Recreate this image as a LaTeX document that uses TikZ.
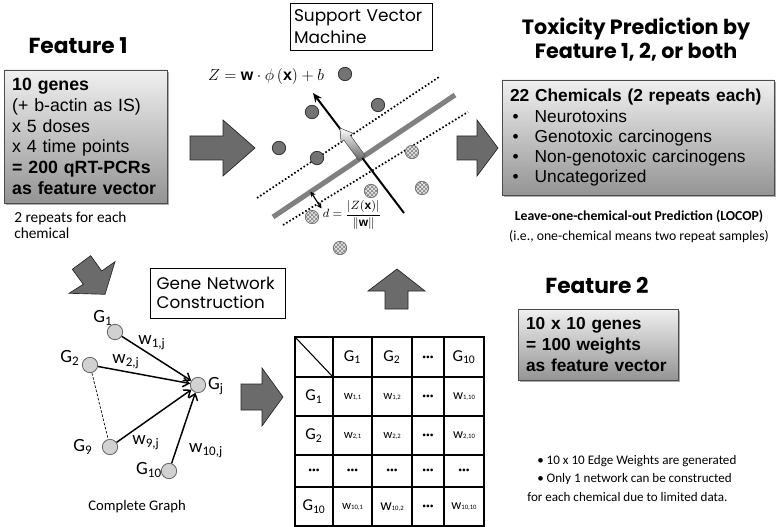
\documentclass[tikz,border=0pt]{standalone}
\usepackage{fontspec}
\setmainfont{Liberation Sans}
\newfontfamily\comic{Poppins}
\newfontfamily\calib{Carlito}
\usetikzlibrary{patterns,shadows,arrows.meta}
\tikzset{
 blockarrow/.style={fill=black!58, draw=black!85, line width=0.5pt, line join=miter},
 featbox/.style={draw=black!70, line width=0.6pt, top color=black!6, bottom color=black!42,
   drop shadow={shadow xshift=1.5pt, shadow yshift=-1.5pt, fill=black!55, opacity=0.6},
   inner xsep=6pt, inner ysep=0pt, align=left},
 plainbox/.style={draw=black, line width=0.7pt, fill=white, align=left, inner xsep=3pt, inner ysep=0pt},
 titletext/.style={font=\comic\bfseries\fontsize{16.3}{18}\selectfont, align=center},
 gnode/.style={circle, draw=black!60, fill=black!18, minimum size=11.5pt, inner sep=0pt, line width=0.6pt},
 dotc/.style={circle, draw=black!80, fill=black!55, minimum size=10pt, inner sep=0pt, line width=0.6pt},
 hatchc/.style={circle, draw=black!55, fill=black!10, minimum size=10pt, inner sep=0pt, line width=0.6pt,
   postaction={pattern=crosshatch, pattern color=black!50}},
 wedge/.style={line width=1.1pt, -{Straight Barb[length=4.5pt,width=7pt]}},
 glabel/.style={font=\calib\fontsize{14}{16}\selectfont, inner sep=0pt},
 hdr/.style={font=\calib\fontsize{12.5}{14}\selectfont, inner sep=0pt},
 cellw/.style={font=\calib\fontsize{9.5}{11}\selectfont, inner sep=0pt},
 dots3/.style={font=\bfseries\fontsize{7}{8}\selectfont, inner sep=0pt},
 caltext/.style={font=\calib\fontsize{11}{12.5}\selectfont, inner sep=0pt},
}
\newcommand{\tdots}{\textbullet\kern0.3pt\textbullet\kern0.3pt\textbullet}
\begin{document}
\begin{tikzpicture}[x=0.75pt,y=-0.75pt]
\useasboundingbox (0,0) rectangle (777,527);

% ---------------- titles ----------------
\node[titletext] (t1) at (78,46) {Feature 1};
\node[titletext, font=\comic\bfseries\fontsize{15.5}{18}\selectfont] (t3) at (636,40) {Toxicity Prediction by\\Feature 1, 2, or both};
\node[titletext] (t2) at (597,285) {Feature 2};

% ---------------- feature 1 box ----------------
\node[featbox, minimum width=122.25pt, minimum height=99.75pt, text width=110pt,
  font=\fontsize{13.3}{15.5}\selectfont] (f1box) at (85.5,136.5)
 {\textbf{10 genes}\\(+ b-actin as IS)\\x 5 doses\\x 4 time points\\\textbf{= 200 qRT-PCRs}\\\textbf{as feature vector}};
\node[caltext, anchor=west, align=left, font=\calib\fontsize{11.5}{12}\selectfont] (rep) at (14,225) {2 repeats for each\\chemical};

% ---------------- toxicity box ----------------
\node[featbox, minimum width=202.5pt, minimum height=86.25pt, text width=192pt,
  font=\fontsize{13}{15}\selectfont] (tbox) at (638,137.5)
 {\textbf{22 Chemicals (2 repeats each)}\\[1.2pt]
  \makebox[18.5pt][l]{\hspace{2pt}\textbullet}Neurotoxins\\
  \makebox[18.5pt][l]{\hspace{2pt}\textbullet}Genotoxic carcinogens\\
  \makebox[18.5pt][l]{\hspace{2pt}\textbullet}Non-genotoxic carcinogens\\
  \makebox[18.5pt][l]{\hspace{2pt}\textbullet}Uncategorized};
\node[caltext, align=center, font=\calib\fontsize{10.3}{15}\selectfont] (locop) at (639,227)
 {\textbf{Leave-one-chemical-out Prediction (LOCOP)}\\(i.e., one-chemical means two repeat samples)};

% ---------------- feature 2 box ----------------
\node[featbox, minimum width=118.5pt, minimum height=53.25pt, text width=108pt,
  font=\bfseries\fontsize{13}{15.8}\selectfont] (f2box) at (598,344.5)
 {10 x 10 genes\\= 100 weights\\as feature vector};

% ---------------- plain boxes ----------------
\node[plainbox, font=\comic\fontsize{12.7}{16.5}\selectfont, minimum width=106.5pt, minimum height=35.25pt, text width=100.5pt] (svmbox) at (361,26.5)
 {\mbox{Support Vector}\\Machine};
\node[plainbox, inner xsep=5pt, font=\comic\fontsize{12.6}{14.5}\selectfont, minimum width=101.25pt, minimum height=37.5pt, text width=91.25pt] (gncbox) at (217.5,293)
 {\mbox{Gene Network}\\\mbox{Construction}};

% ---------------- block arrows ----------------
\draw[blockarrow] (190,136) -- (223,136) -- (223,120) -- (255,148) -- (223,176) -- (223,160) -- (190,160) -- cycle;
\draw[blockarrow] (457,136) -- (477,136) -- (477,120) -- (498,148) -- (477,176) -- (477,160) -- (457,160) -- cycle;
\draw[blockarrow] (90.7,255.7) -- (101.7,271) -- (115,261.7) -- (105,294.3) -- (69,293.3) -- (83.3,284.3) -- (72.3,269.3) -- cycle;
\draw[blockarrow] (241,384) -- (262,384) -- (262,368) -- (283,397) -- (262,426) -- (262,410) -- (241,410) -- cycle;
\draw[blockarrow] (385,309) -- (385,291) -- (368,291) -- (397,269) -- (425,291) -- (408,291) -- (408,309) -- cycle;

% ---------------- SVM plot ----------------
\node[inner sep=0pt, font=\fontsize{12}{14}\selectfont] (zeq) at (266,77) {$Z=\mathbf{w}\cdot\phi\left(\mathbf{x}\right)+b$};
\coordinate (hpA) at (273,217); \coordinate (hpB) at (455,95);
\coordinate (mgA) at (257,198); \coordinate (mgB) at (439,77);
\coordinate (mlA) at (283,225); \coordinate (mlB) at (468,112);
\draw[black!50, line width=3.8pt] (hpA) -- (hpB);
\draw[line width=1.3pt, dash pattern=on 1.2pt off 1.6pt] (mgA) -- (mgB);
\draw[line width=1.3pt, dash pattern=on 1.2pt off 1.6pt] (mlA) -- (mlB);
\coordinate (nA) at (404,213); \coordinate (nB) at (313,93);
\draw[line width=1.5pt, -{Stealth[length=7pt,width=6pt]}] (nA) -- (nB);
\shade[top color=white, bottom color=black!60, draw=black!70, line width=0.4pt]
 (358.8,160.4) -- (343.9,140.1) -- (341.0,142.1) -- (340,128) -- (353.1,133.3) -- (350.3,135.3) -- (365.2,155.6) -- cycle;
\foreach \n/\p in {d1/{(345,74)}, d2/{(312,112)}, d3/{(378,105)}, d4/{(279,148)}, d5/{(317,158)}}
  \node[dotc] (\n) at \p {};
\foreach \n/\p in {h1/{(412,152)}, h2/{(422,188)}, h3/{(371,191)}, h4/{(312,217)}, h5/{(340,248)}}
  \node[hatchc] (\n) at \p {};
\coordinate (dA) at (310.5,191.5); \coordinate (dB) at (321.5,208.5);
\draw[line width=0.9pt, {Stealth[length=4pt,width=4pt]}-{Stealth[length=4pt,width=4pt]}] (dA) -- (dB);
\node[inner sep=0pt, font=\fontsize{9}{10}\selectfont] (deq) at (352,215) {$d=\displaystyle\frac{\left|Z(\mathbf{x})\right|}{\left\|\mathbf{w}\right\|}$};

% ---------------- graph ----------------
\node[gnode] (g1) at (115,332) {};
\node[gnode] (g2) at (90,365) {};
\node[gnode] (gj) at (198,385) {};
\node[gnode] (g9) at (110,447) {};
\node[gnode] (g10) at (169,471) {};
\node[glabel] (lg1) at (103,318) {G\textsubscript{1}};
\node[glabel] (lg2) at (70,358) {G\textsubscript{2}};
\node[glabel] (lgj) at (216,386) {G\textsubscript{j}};
\node[glabel] (lg9) at (83,447) {G\textsubscript{9}};
\node[glabel] (lg10) at (149,470) {G\textsubscript{10}};
\draw[wedge] (g1) -- (gj);
\draw[wedge] (g2) -- (gj);
\draw[wedge] (g9) -- (gj);
\draw[wedge] (g10) -- (gj);
\draw[line width=0.5pt, dash pattern=on 2pt off 1.2pt] (g2) -- (g9);
\node[glabel] (w1) at (152,343) {w\textsubscript{1,j}};
\node[glabel] (w2) at (126,362) {w\textsubscript{2,j}};
\node[glabel] (w9) at (146,443) {w\textsubscript{9,j}};
\node[glabel] (w10) at (206,451) {w\textsubscript{10,j}};
\node[caltext] (cg) at (137,507) {Complete Graph};

% ---------------- matrix ----------------
\draw[line width=0.8pt] (295,337) rectangle (484,526);
\foreach \xx in {333,372,412,444} \draw[line width=0.8pt] (\xx,337) -- (\xx,526);
\foreach \yy in {377,416,455,487} \draw[line width=0.8pt] (295,\yy) -- (484,\yy);
\draw[line width=0.8pt] (295,337) -- (333,377);
\node[hdr] (h11) at (352.5,357) {G\textsubscript{1}};
\node[hdr] (h12) at (392,357) {G\textsubscript{2}};
\node[dots3] (h13) at (428,358) {\tdots};
\node[hdr] (h14) at (464,357) {G\textsubscript{10}};
\node[hdr] (r1) at (314,396.5) {G\textsubscript{1}};
\node[hdr] (r2) at (314,435.5) {G\textsubscript{2}};
\node[dots3] (r3) at (314,471.5) {\tdots};
\node[hdr] (r4) at (314,506.5) {G\textsubscript{10}};
\node[cellw] (c11) at (352.5,397) {w{\fontsize{5}{6}\selectfont 1,1}};
\node[cellw] (c12) at (392,397) {w{\fontsize{5}{6}\selectfont 1,2}};
\node[dots3] (c13) at (428,397.5) {\tdots};
\node[cellw, font=\calib\fontsize{10.5}{12}\selectfont] (c14) at (464,397) {w{\fontsize{5}{6}\selectfont 1,10}};
\node[cellw] (c21) at (352.5,436) {w{\fontsize{5}{6}\selectfont 2,1}};
\node[cellw] (c22) at (392,436) {w{\fontsize{5}{6}\selectfont 2,2}};
\node[dots3] (c23) at (428,436.5) {\tdots};
\node[cellw, font=\calib\fontsize{10.5}{12}\selectfont] (c24) at (464,436) {w{\fontsize{5}{6}\selectfont 2,10}};
\node[dots3] (c31) at (352.5,471.5) {\tdots};
\node[dots3] (c32) at (392,471.5) {\tdots};
\node[dots3] (c33) at (428,471.5) {\tdots};
\node[dots3] (c34) at (464,471.5) {\tdots};
\node[cellw] (c41) at (352.5,507) {w{\fontsize{5}{6}\selectfont 10,1}};
\node[cellw, font=\calib\fontsize{12}{13}\selectfont] (c42) at (392,507) {w{\fontsize{5}{6}\selectfont 10,2}};
\node[dots3] (c43) at (428,507.5) {\tdots};
\node[cellw, font=\calib\fontsize{10.5}{12}\selectfont] (c44) at (464,507) {w{\fontsize{5}{6}\selectfont 10,10}};

% ---------------- notes ----------------
\node[caltext, anchor=west, align=left, font=\calib\fontsize{9.8}{13.8}\selectfont] (notes) at (527,478.5)
 {\hspace*{7.5pt}\textbullet\ 10 x 10 Edge Weights are generated\\
  \hspace*{7.5pt}\textbullet\ Only 1 network can be constructed\\
  for each chemical due to limited data.};
\end{tikzpicture}
\end{document}
